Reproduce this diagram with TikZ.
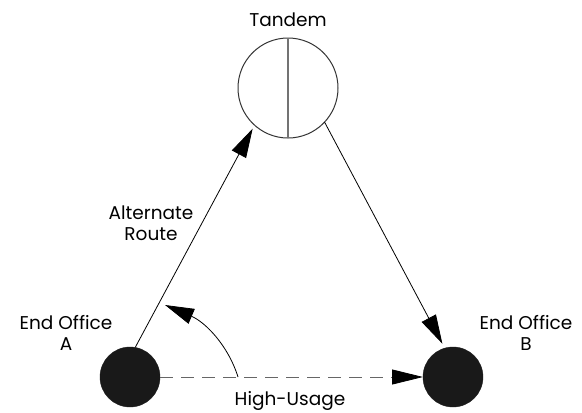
\documentclass[tikz,border=0pt]{standalone}
\usepackage{fontspec}
\setmainfont{Poppins}
\usetikzlibrary{arrows.meta}
\begin{document}
\begin{tikzpicture}[x=1pt,y=-1pt,
  lbl/.style={font=\fontsize{18.5}{20.5}\selectfont, align=center, inner sep=0pt},
  office/.style={circle, fill=black!90, draw=black!90, minimum size=60pt, inner sep=0pt, outer sep=0pt},
  hub/.style={circle, draw=black!80, line width=1pt, minimum size=100pt, inner sep=0pt, outer sep=0pt},
  conn/.style={line width=0.8pt, -{Triangle[length=29pt,width=16pt]}},
]
\useasboundingbox (0,0) rectangle (582,413);
\node[hub] (T) at (288,88) {};
\draw[black!55, line width=1.1pt] (T.north) -- (T.south);
\node[office] (A) at (130,377) {};
\node[office] (B) at (453,377) {};
\node[lbl] (tl) at (288,20) {Tandem};
\node[lbl] (al) at (66,333) {End Office\\A};
\node[lbl] (bl) at (526,333) {End Office\\B};
\node[lbl] (rl) at (151,223) {Alternate\\Route};
\node[lbl] (hl) at (290,401) {High-Usage};
\draw[conn, shorten >=4pt] (A.80) -- (T.228);
\draw[conn, shorten >=5pt] (T.-43) -- (B.106);
\draw[conn, black!60, dash pattern=on 13pt off 8pt, -{Triangle[length=31pt,width=15pt,color=black,fill=black]}] (A.east) -- (B.west);
\coordinate (cs) at (238,377);
\coordinate (ce) at (165,305);
\draw[conn] (cs) .. controls (228,345) and (205,322) .. (ce);
\end{tikzpicture}
\end{document}
